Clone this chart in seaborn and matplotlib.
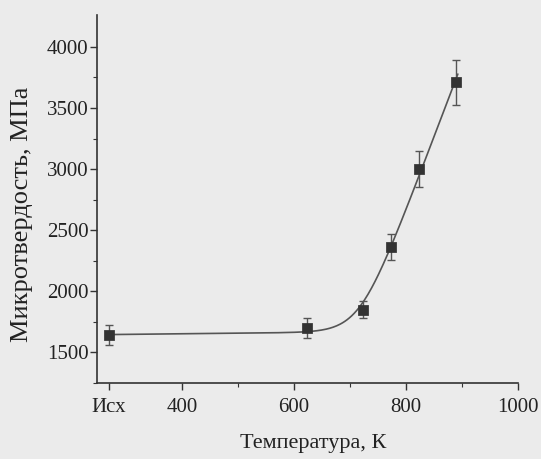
import numpy as np
import pandas as pd
import matplotlib
matplotlib.use("Agg")
import matplotlib.pyplot as plt
import seaborn as sns

# Microhardness vs annealing temperature
temperature_k = [270, 623, 723, 773, 823, 890]
hardness_mpa = [1640, 1700, 1850, 2360, 3000, 3710]
hardness_err = [80, 80, 70, 105, 145, 185]
x_tick_values = [270, 400, 600, 800, 1000]
x_tick_labels = ["Исх", "400", "600", "800", "1000"]
y_tick_values = [1500, 2000, 2500, 3000, 3500, 4000]

df = pd.DataFrame({"T": temperature_k, "H": hardness_mpa, "err": hardness_err})


def softplus(z):
    return np.logaddexp(0.0, z)


# Smooth trend: linear baseline plus a soft knee, fitted by least squares
T = np.array(temperature_k, float)
H = np.array(hardness_mpa, float)
best = None
for t0 in np.linspace(650, 820, 171):
    for w in np.linspace(25, 90, 66):
        M = np.column_stack([np.ones_like(T), T, w * softplus((T - t0) / w)])
        coef, *_ = np.linalg.lstsq(M, H, rcond=None)
        if coef[1] < 0:
            continue
        r = np.sum((M @ coef - H) ** 2)
        if best is None or r < best[0]:
            best = (r, t0, w, coef)
_, t0, w, coef = best
T_fit = np.linspace(T.min(), T.max() + 3, 300)
H_fit = coef[0] + coef[1] * T_fit + coef[2] * w * softplus((T_fit - t0) / w)
fit_df = pd.DataFrame({"T": T_fit, "H": H_fit})

sns.set_theme(style="ticks")
plt.rcParams["font.family"] = ["Liberation Serif", "DejaVu Serif"]

fig = plt.figure(figsize=(5.41, 4.59), dpi=100)
bg = "#ebebeb"
fig.patch.set_facecolor(bg)
ax = fig.add_axes([0.179, 0.166, 0.778, 0.801])
ax.set_facecolor(bg)

sns.lineplot(data=fit_df, x="T", y="H", ax=ax, color="#555555", lw=1.2)
ax.errorbar(df["T"], df["H"], yerr=df["err"], fmt="none",
            ecolor="#555555", elinewidth=1.0, capsize=3, capthick=1.0)
sns.scatterplot(data=df, x="T", y="H", ax=ax, marker="s", s=45,
                color="#333333", edgecolor="#333333", zorder=5)

ax.set_xlim(248, 1000)
ax.set_ylim(1250, 4260)
ax.set_xticks(x_tick_values)
ax.set_xticklabels(x_tick_labels)
ax.set_yticks(y_tick_values)
ax.set_xticks([500, 700, 900], minor=True)
ax.set_yticks([1250, 1750, 2250, 2750, 3250, 3750], minor=True)
ax.tick_params(axis="both", which="major", labelsize=15, length=5,
               width=1, color="#333333", labelcolor="#222222")
ax.tick_params(axis="x", which="major", pad=6)
ax.tick_params(axis="y", which="major", pad=1)
ax.tick_params(axis="both", which="minor", length=3, width=0.8, color="#333333")
ax.set_xlabel("Температура, К", fontsize=16, color="#222222")
ax.set_ylabel("Микротвердость, МПа", fontsize=19, color="#222222")
ax.xaxis.set_label_coords(0.515, -0.165)
ax.yaxis.set_label_coords(-0.178, 0.457)
ax.xaxis.label.set_verticalalignment("center")
ax.yaxis.label.set_verticalalignment("center")
for s in ["top", "right"]:
    ax.spines[s].set_visible(False)
for s in ["left", "bottom"]:
    ax.spines[s].set_color("#333333")
    ax.spines[s].set_linewidth(1.2)

fig.savefig("out.png", dpi=100, facecolor=bg)
